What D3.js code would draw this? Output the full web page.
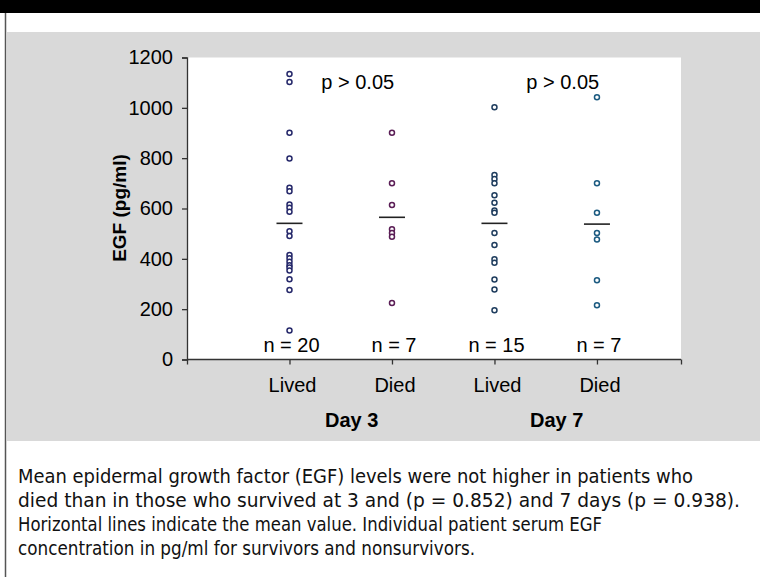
<!DOCTYPE html>
<html>
<head>
<meta charset="utf-8">
<script src="https://cdn.jsdelivr.net/npm/d3@7"></script>
<style>
  html, body { margin: 0; padding: 0; background: #ffffff; }
  svg { display: block; }
</style>
</head>
<body>
<div id="chart"></div>
<script>
// ---- Data ----
const groups = ["Lived", "Died", "Lived", "Died"];
const days = ["Day 3", "Day 7"];
const nLabels = ["n = 20", "n = 7", "n = 15", "n = 7"];
const pLabels = ["p > 0.05", "p > 0.05"];
const day3Lived = [1134, 1103, 901, 799, 682, 669, 616, 603, 587, 510, 491, 415, 402, 388, 375, 366, 354, 319, 276, 115];
const day3Died = [901, 700, 614, 518, 503, 488, 225];
const day7Lived = [1002, 733, 717, 700, 653, 623, 592, 583, 503, 455, 398, 384, 318, 278, 196];
const day7Died = [1042, 700, 583, 503, 477, 315, 216];
const means = [541, 565, 541, 538];
const yTicks = [0, 200, 400, 600, 800, 1000, 1200];
const pointColors = ["#25286a", "#5a1d55", "#1f3d5e", "#1b5a80"];
const captionLines = [
  "Mean epidermal growth factor (EGF) levels were not higher in patients who",
  "died than in those who survived at 3 and (p = 0.852) and 7 days (p = 0.938).",
  "Horizontal lines indicate the mean value. Individual patient serum EGF",
  "concentration in pg/ml for survivors and nonsurvivors."
];
const captionWidths = [675, 722, 584, 457];

const series = [day3Lived, day3Died, day7Lived, day7Died];

// ---- Layout ----
const W = 760, H = 577;
const svg = d3.select("#chart").append("svg").attr("width", W).attr("height", H);

// header band and frame
svg.append("rect").attr("x", 0).attr("y", 0).attr("width", W).attr("height", 13).attr("fill", "#000");
svg.append("line").attr("x1", 5.5).attr("x2", 5.5).attr("y1", 13).attr("y2", H)
  .attr("stroke", "#555").attr("stroke-width", 1.5);

// gray panel
svg.append("rect").attr("x", 7).attr("y", 32).attr("width", W - 7).attr("height", 409).attr("fill", "#d9d9d9");

const x = d3.scaleLinear().domain([0, 4.82]).range([187, 681]);
const y = d3.scaleLinear().domain([0, 1200]).range([359.5, 57.5]);

// plot area
svg.append("rect").attr("x", x(0)).attr("y", y(1200)).attr("width", x(4.82) - x(0)).attr("height", y(0) - y(1200)).attr("fill", "#fff");

const font = "'Liberation Sans', Arial, sans-serif";

// y axis
const yAxis = d3.axisLeft(y).tickValues(yTicks).tickSize(5).tickPadding(9).tickFormat(d3.format("d"));
const gy = svg.append("g").attr("transform", `translate(${x(0)},0)`).call(yAxis);
gy.select(".domain").attr("stroke", "#333").attr("stroke-width", 1.3);
gy.selectAll(".tick line").attr("stroke", "#333").attr("stroke-width", 1.3);
gy.selectAll(".tick text").attr("font-family", font).attr("font-size", 20).attr("fill", "#000");

// x axis
const xAxis = d3.axisBottom(x).tickValues([0, 1, 2, 3, 4, 4.82]).tickSize(5).tickFormat("");
const gx = svg.append("g").attr("transform", `translate(0,${y(0)})`).call(xAxis);
gx.select(".domain").attr("stroke", "#333").attr("stroke-width", 1.3).attr("d", `M${x(0)},0H${x(4.82)}`);
gx.selectAll(".tick line").attr("stroke", "#333").attr("stroke-width", 1.3);

// category labels
svg.append("g").selectAll("text").data(groups).join("text")
  .attr("x", (d, i) => x(i + 1) + 3).attr("y", 392)
  .attr("text-anchor", "middle").attr("font-family", font).attr("font-size", 20).attr("fill", "#000")
  .text(d => d);

// day labels
svg.append("g").selectAll("text").data(days).join("text")
  .attr("x", (d, i) => (x(2 * i + 1) + x(2 * i + 2)) / 2 + 11).attr("y", 427)
  .attr("text-anchor", "middle").attr("font-family", font).attr("font-size", 20).attr("font-weight", "bold").attr("fill", "#000")
  .text(d => d);

// y title
svg.append("text")
  .attr("transform", "translate(126,208) rotate(-90)")
  .attr("text-anchor", "middle").attr("font-family", font).attr("font-size", 19).attr("font-weight", "bold").attr("fill", "#000")
  .text("EGF (pg/ml)");

// mean lines
svg.append("g").selectAll("line").data(means).join("line")
  .attr("x1", (d, i) => x(i + 1) - 13).attr("x2", (d, i) => x(i + 1) + 13)
  .attr("y1", d => y(d)).attr("y2", d => y(d))
  .attr("stroke", "#222").attr("stroke-width", 1.6);

// points
series.forEach((vals, i) => {
  svg.append("g").selectAll("circle").data(vals).join("circle")
    .attr("cx", x(i + 1)).attr("cy", d => y(d)).attr("r", 2.5)
    .attr("fill", "#fff").attr("stroke", pointColors[i]).attr("stroke-width", 1.5);
});

// n labels
svg.append("g").selectAll("text").data(nLabels).join("text")
  .attr("x", (d, i) => x(i + 1) + 2).attr("y", 352)
  .attr("text-anchor", "middle").attr("font-family", font).attr("font-size", 20).attr("fill", "#000")
  .text(d => d);

// p labels
svg.append("g").selectAll("text").data(pLabels).join("text")
  .attr("x", (d, i) => (x(2 * i + 1) + x(2 * i + 2)) / 2 + 17).attr("y", 89)
  .attr("text-anchor", "middle").attr("font-family", font).attr("font-size", 20).attr("fill", "#000")
  .text(d => d);

// caption
svg.append("g").selectAll("text").data(captionLines).join("text")
  .attr("x", 18).attr("y", (d, i) => 483 + i * 24)
  .attr("font-family", "'Liberation Sans Narrow', 'DejaVu Sans Condensed', 'Noto Sans', sans-serif")
  .attr("font-size", 19).attr("fill", "#111")
  .attr("textLength", (d, i) => captionWidths[i]).attr("lengthAdjust", "spacingAndGlyphs")
  .text(d => d);
</script>
</body>
</html>
